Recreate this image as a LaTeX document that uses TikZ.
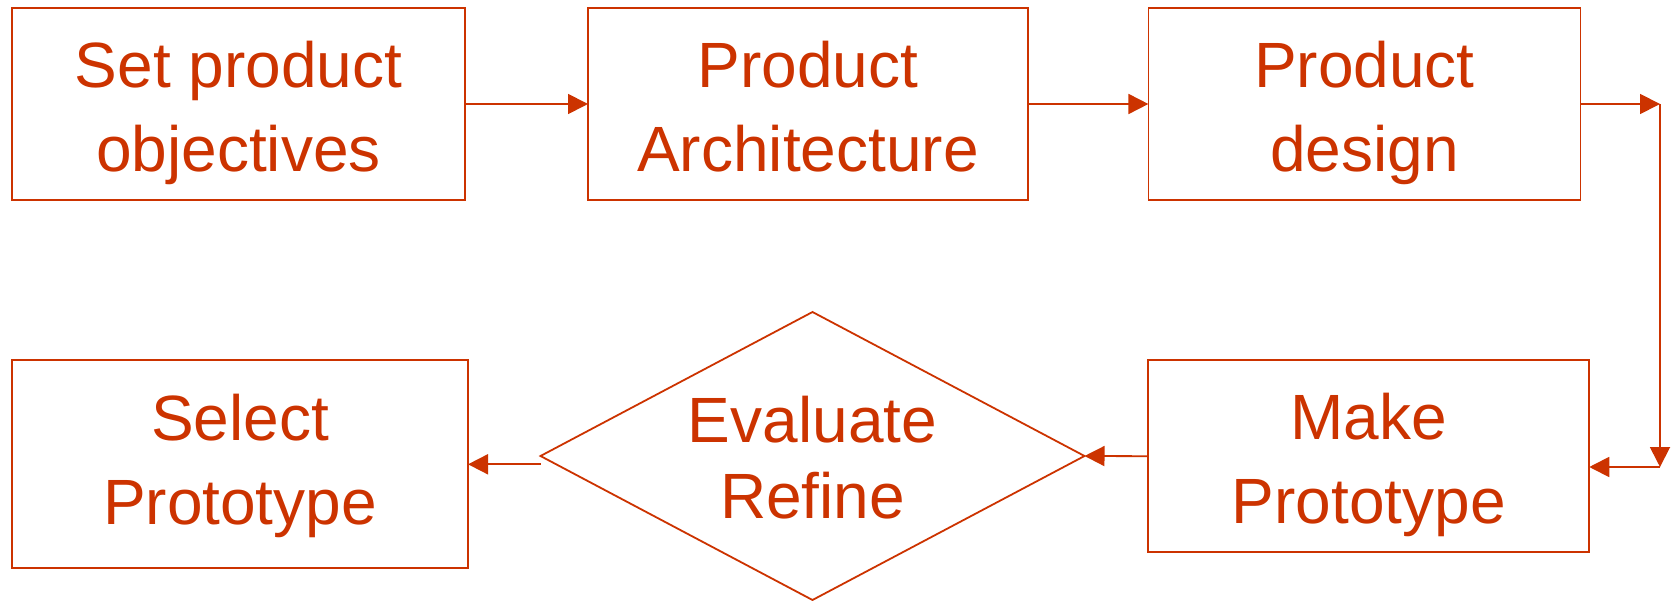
\documentclass[tikz,border=0pt]{standalone}
\usepackage{fontspec}
\setmainfont{Liberation Sans}
\usetikzlibrary{arrows.meta,shapes.geometric}
\definecolor{rust}{RGB}{204,51,0}
\begin{document}
\begin{tikzpicture}[x=1pt,y=-1pt,
  box/.style={draw=rust, line width=1.8pt, rectangle, inner sep=0pt, outer sep=0pt,
    text=rust, font=\fontsize{64}{84}\selectfont, text height=0pt},
  dia/.style={draw=rust, line width=1.8pt, diamond, aspect=1.89, inner sep=0pt, outer sep=0pt,
    text=rust, font=\fontsize{64}{76}\selectfont, text height=0pt},
  link/.style={draw=rust, line width=1.8pt, -{Triangle[length=20pt,width=20pt]}}]
\useasboundingbox (0,0) rectangle (1675,601);
\node[box, minimum width=453pt, minimum height=192pt, text depth=32pt] (b1) at (238.5,104)
  {\begin{tabular}[t]{@{}c@{}}Set product\\objectives\end{tabular}};
\node[box, minimum width=440pt, minimum height=192pt, text depth=32pt] (b2) at (808,104)
  {\begin{tabular}[t]{@{}c@{}}Product\\Architecture\end{tabular}};
\node[box, minimum width=432pt, minimum height=192pt, text depth=32pt] (b3) at (1364.4,104)
  {\begin{tabular}[t]{@{}c@{}}Product\\design\end{tabular}};
\node[box, minimum width=456pt, minimum height=208pt, text depth=48.6pt] (b4) at (240,464.3)
  {\begin{tabular}[t]{@{}c@{}}Select\\Prototype\end{tabular}};
\node[box, minimum width=441pt, minimum height=192pt, text depth=33.8pt] (b5) at (1368.75,456.2)
  {\begin{tabular}[t]{@{}c@{}}Make\\Prototype\end{tabular}};
\node[dia, minimum width=544pt, minimum height=288pt, text depth=26.6pt] (dia) at (812.5,456)
  {\begin{tabular}[t]{@{}c@{}}Evaluate\\Refine\end{tabular}};
\coordinate (c1) at (1660,104);
\coordinate (c2) at (1660,467);
\draw[link] (b1.east) -- (b2.west);
\draw[link] (b2.east) -- (b3.west);
\draw[link] (b3.east) -- (c1);
\draw[link] (c1) -- (c2);
\draw[link] (c2) -- (c2 -| b5.east);
\draw[link] (b5.west) -- (dia.east);
\draw[link] (dia.west |- b4.east) -- (b4.east);
\end{tikzpicture}
\end{document}
